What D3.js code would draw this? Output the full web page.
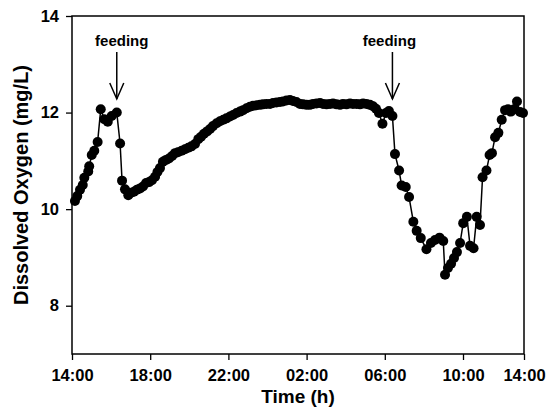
<!DOCTYPE html>
<html><head><meta charset="utf-8">
<script src="https://cdn.jsdelivr.net/npm/d3@7"></script>
<style>body{margin:0;background:#fff}svg{display:block;font-family:"Liberation Sans",Arial,sans-serif}</style>
</head><body>
<svg id="c" width="550" height="412"></svg>
<script>
// hours since 14:00
const hours = [0.15,0.27,0.41,0.55,0.63,0.83,0.88,1.01,1.14,1.31,1.47,1.65,1.83,2.03,2.29,2.46,2.56,2.71,2.88,
3.02,3.17,3.32,3.48,3.63,3.79,3.94,4.09,4.25,4.37,4.50,4.65,4.81,4.96,5.12,5.27,5.42,5.61,5.78,5.95,6.11,6.29,6.46,6.60,6.75,6.91,7.06,7.21,7.40,7.57,7.74,7.90,8.08,8.24,8.42,8.59,8.75,8.93,
9.10,9.26,9.44,9.62,9.77,9.95,10.13,10.28,10.46,10.64,10.79,10.97,11.15,11.30,11.48,11.66,11.82,12.00,12.17,12.33,12.51,12.69,12.84,13.02,13.20,13.35,13.53,13.71,13.86,14.04,14.22,14.37,14.55,14.73,14.89,15.06,15.24,15.40,15.55,15.70,15.88,16.06,16.21,16.39,
16.52,16.73,16.86,17.07,17.24,17.46,17.63,17.84,18.13,18.36,18.57,18.80,18.99,
19.08,19.23,19.39,19.54,19.69,19.85,20.01,20.20,20.36,20.54,20.70,20.87,21.00,21.20,21.36,21.48,21.64,21.81,21.98,22.15,22.30,22.45,22.61,22.76,22.92,23.07];
const oxygen = [10.17,10.27,10.40,10.50,10.65,10.78,10.89,11.12,11.21,11.39,12.07,11.86,11.81,11.93,12.00,11.36,10.59,10.41,10.29,
10.34,10.36,10.40,10.43,10.47,10.54,10.56,10.60,10.67,10.77,10.85,10.98,11.02,11.05,11.10,11.16,11.18,11.21,11.24,11.27,11.30,11.35,11.45,11.50,11.56,11.61,11.66,11.72,11.78,11.82,11.85,11.88,11.92,11.95,11.99,12.02,12.05,12.09,
12.12,12.14,12.15,12.16,12.17,12.18,12.18,12.20,12.21,12.22,12.23,12.25,12.26,12.24,12.22,12.18,12.17,12.16,12.16,12.18,12.19,12.20,12.18,12.17,12.18,12.19,12.17,12.16,12.18,12.17,12.19,12.18,12.18,12.17,12.19,12.18,12.16,12.13,12.08,11.99,11.77,11.99,12.03,11.93,
11.14,10.80,10.49,10.46,10.25,9.74,9.55,9.40,9.17,9.30,9.36,9.41,9.34,
8.64,8.78,8.87,8.99,9.11,9.30,9.71,9.84,9.24,9.19,9.84,9.67,10.66,10.80,11.12,11.16,11.49,11.58,11.85,12.05,12.07,12.02,12.07,12.23,12.01,11.99];
const xTickValues = [0,4,8,12,16,20,23.12];
const xTickLabels = ["14:00","18:00","22:00","02:00","06:00","10:00","14:00"];
const yTickValues = [8,10,12,14];
const feedingTimes = [2.29,16.39];
const feedingLabel = "feeding";

const svg = d3.select("#c");
const L=72,R=524,T=16,B=354;
const x = d3.scaleLinear().domain([0,23.12]).range([L,R]);
const y = d3.scaleLinear().domain([7,14]).range([B,T]);

const xa = svg.append("g").attr("transform",`translate(0,${B})`)
  .call(d3.axisBottom(x).tickValues(xTickValues).tickFormat((d,i)=>xTickLabels[i]).tickSizeOuter(0).tickSize(6).tickPadding(9));
const ya = svg.append("g").attr("transform",`translate(${L},0)`)
  .call(d3.axisLeft(y).tickValues(yTickValues).tickFormat(d3.format("d")).tickSizeOuter(0).tickSize(6).tickPadding(7));
[xa,ya].forEach(a=>{
  a.select(".domain").remove();
  a.selectAll("line").attr("stroke","#000").attr("stroke-width",1.3);
  a.selectAll("text").attr("fill","#000").style("font-size","16.5px").style("font-weight","bold");
});
svg.append("rect").attr("x",L).attr("y",T).attr("width",R-L).attr("height",B-T)
  .attr("fill","none").attr("stroke","#000").attr("stroke-width",1.5);

const pts = hours.map((h,i)=>[h,oxygen[i]]);
svg.append("path").datum(pts).attr("fill","none").attr("stroke","#000").attr("stroke-width",1.5)
  .attr("d",d3.line().x(d=>x(d[0])).y(d=>y(d[1])));
svg.append("g").selectAll("circle").data(pts).join("circle")
  .attr("cx",d=>x(d[0])).attr("cy",d=>y(d[1])).attr("r",5).attr("fill","#000");

const labelShift = [5,-3];
feedingTimes.forEach((t,i)=>{
  const ax = x(t);
  svg.append("text").attr("x",ax+labelShift[i]).attr("y",46).attr("text-anchor","middle")
    .style("font-size","15px").style("font-weight","bold").text(feedingLabel);
  const g = svg.append("g").attr("stroke","#000").attr("stroke-width",1.5).attr("fill","none");
  g.append("line").attr("x1",ax).attr("x2",ax).attr("y1",52).attr("y2",99);
  g.append("path").attr("d",`M${ax-7},83 L${ax},99 L${ax+7},83`);
});

svg.append("text").attr("x",(L+R)/2).attr("y",403).attr("text-anchor","middle")
  .style("font-size","19px").style("font-weight","bold").text("Time (h)");
svg.append("text").attr("transform",`translate(28,${(T+B)/2}) rotate(-90)`).attr("text-anchor","middle")
  .style("font-size","20px").style("font-weight","bold").text("Dissolved Oxygen (mg/L)");
</script>
</body></html>
